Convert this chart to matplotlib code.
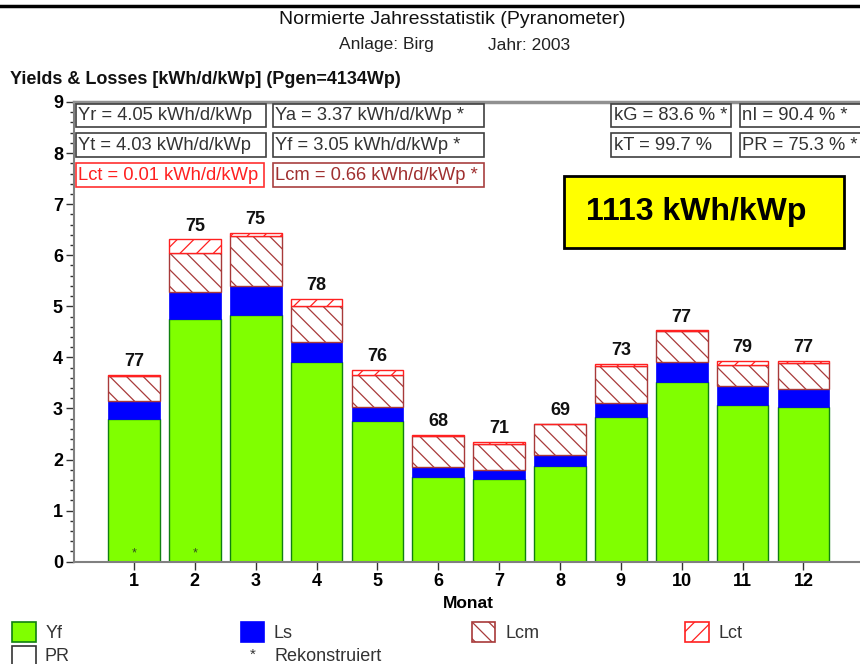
import matplotlib
matplotlib.use("Agg")
import matplotlib.pyplot as plt
from matplotlib.patches import Rectangle
from matplotlib.lines import Line2D

plt.rcParams['font.family'] = ['Liberation Sans', 'DejaVu Sans']
plt.rcParams['hatch.linewidth'] = 0.9

# ---------------- data ----------------
months = [1, 2, 3, 4, 5, 6, 7, 8, 9, 10, 11, 12]
yf = [2.79, 4.75, 4.83, 3.90, 2.75, 1.66, 1.62, 1.87, 2.84, 3.51, 3.07, 3.03]
ls = [0.36, 0.53, 0.57, 0.41, 0.27, 0.19, 0.18, 0.22, 0.27, 0.40, 0.37, 0.36]
lcm = [0.49, 0.76, 0.97, 0.70, 0.63, 0.62, 0.50, 0.60, 0.73, 0.60, 0.42, 0.50]
lct = [0.02, 0.27, 0.07, 0.13, 0.11, 0.01, 0.05, 0.01, 0.04, 0.02, 0.07, 0.04]
pr = [77, 75, 75, 78, 76, 68, 71, 69, 73, 77, 79, 77]
reconstructed = [1, 2]

stats_left = [("Yr = 4.05 kWh/d/kWp", "Ya = 3.37 kWh/d/kWp *"),
              ("Yt = 4.03 kWh/d/kWp", "Yf = 3.05 kWh/d/kWp *"),
              ("Lct = 0.01 kWh/d/kWp", "Lcm = 0.66 kWh/d/kWp *")]
stats_right = [("kG = 83.6 % *", "nI = 90.4 % *"),
               ("kT = 99.7 %", "PR = 75.3 % *")]
total_text = "1113 kWh/kWp"

title1 = "Normierte Jahresstatistik (Pyranometer)"
anlage = "Anlage: Birg"
jahr = "Jahr: 2003"
ylabel = "Yields & Losses [kWh/d/kWp] (Pgen=4134Wp)"
xlabel = "Monat"

# ---------------- figure ----------------
W, H = 860, 664
fig = plt.figure(figsize=(W / 100, H / 100), dpi=100)

def fx(px):
    return px / W

def fy(py):
    return 1 - py / H

ax_left, ax_right, ax_top, ax_bot = 74, 860, 102, 561.7
ax = fig.add_axes([fx(ax_left), fy(ax_bot), fx(ax_right - ax_left), (ax_bot - ax_top) / H])

GREEN = '#80ff00'
BLUE = '#0000ff'
LCM_C = '#a83a3a'
LCT_C = '#ff2020'

bw = 0.85
b1 = [a + b for a, b in zip(yf, ls)]
b2 = [a + b for a, b in zip(b1, lcm)]
tops = [a + b for a, b in zip(b2, lct)]

ax.bar(months, yf, width=bw, color=GREEN, edgecolor='#108010', linewidth=1.0, zorder=2)
ax.bar(months, ls, width=bw, bottom=yf, color=BLUE, edgecolor=BLUE, linewidth=0.5, zorder=2)
ax.bar(months, lcm, width=bw, bottom=b1, color='white', edgecolor=LCM_C, hatch='\\\\',
       linewidth=1.0, zorder=2)
ax.bar(months, lct, width=bw, bottom=b2, color='white', edgecolor=LCT_C, hatch='//',
       linewidth=1.0, zorder=2)

for m, t, p in zip(months, tops, pr):
    ax.annotate(str(p), (m, t), xytext=(0, 9.5), textcoords='offset points',
                ha='center', va='center', fontsize=13, fontweight='bold', color='#111111')

for m in reconstructed:
    ax.annotate('*', (m, 0), xytext=(0, 6), textcoords='offset points',
                ha='center', va='center', fontsize=9, color='#305020', zorder=3)

ax.set_xlim(0.014, 12.93)
ax.set_ylim(0, 9)
ax.set_xticks(months)
ax.set_xticklabels([str(m) for m in months], fontsize=13, fontweight='bold')
ax.set_yticks(range(0, 10))
ax.set_yticks([i * 0.2 for i in range(46) if i % 5 != 0], minor=True)
ax.set_yticklabels([str(i) for i in range(10)], fontsize=13, fontweight='bold')
ax.tick_params(axis='y', which='major', length=6, width=1, color='#333333', pad=2)
ax.tick_params(axis='y', which='minor', length=3, width=1, color='#333333')
ax.tick_params(axis='x', which='major', length=6, width=1, color='#333333', pad=2)

for s in ['left', 'bottom']:
    ax.spines[s].set_color('#808080')
    ax.spines[s].set_linewidth(1.5)
ax.spines['top'].set_color('#909090')
ax.spines['top'].set_linewidth(2.5)
ax.spines['right'].set_visible(False)

fig.text(fx(468), fy(603), xlabel, ha='center', va='center', fontsize=12.5, fontweight='bold')

# titles
fig.add_artist(Line2D([0, 1], [fy(6), fy(6)], transform=fig.transFigure, color='black', lw=2.5))
fig.text(fx(452), fy(20), title1, ha='center', va='center', fontsize=14, color='#111111')
fig.text(fx(339), fy(45), anlage, ha='left', va='center', fontsize=12.5, color='#222222')
fig.text(fx(488), fy(45), jahr, ha='left', va='center', fontsize=12.5, color='#222222')
fig.text(fx(10), fy(79), ylabel, ha='left', va='center', fontsize=13, fontweight='bold',
         color='#111111')

# stat boxes
def box(x0, y0, x1, y1, text, tcolor='#333333', ecolor='#404040', fs=13.2):
    fig.add_artist(Rectangle((fx(x0), fy(y1)), fx(x1 - x0), (y1 - y0) / H,
                             transform=fig.transFigure, facecolor='white',
                             edgecolor=ecolor, linewidth=1.2, zorder=5))
    fig.text(fx(x0 + 2.5), fy((y0 + y1) / 2 + 0.5), text, ha='left', va='center',
             fontsize=fs, color=tcolor, zorder=6)

rows_y = [(103.5, 126.7), (132.7, 156.7), (162.7, 186.7)]
for (y0, y1), (lt, rt) in zip(rows_y, stats_left):
    if lt.startswith('Lct'):
        box(76, y0, 264, y1, lt, tcolor='#ff2020', ecolor='#ff3030')
        box(272.7, y0, 484, y1, rt, tcolor='#a03030', ecolor='#a84040')
    else:
        box(76, y0, 266, y1, lt)
        box(272.7, y0, 484, y1, rt)

for (y0, y1), (lt, rt) in zip(rows_y[:2], stats_right):
    box(611, y0, 731, y1, lt)
    box(740, y0, 875, y1, rt)

# yellow total box
fig.add_artist(Rectangle((fx(564.3), fy(248.3)), fx(844.3 - 564.3), (248.3 - 176) / H,
                         transform=fig.transFigure, facecolor='#ffff00',
                         edgecolor='black', linewidth=2, zorder=5))
fig.text(fx(586), fy(212), total_text, ha='left', va='center', fontsize=23,
         fontweight='bold', color='black', zorder=6)

# legend
def leg_patch(x0, y0, x1, y1, fc, ec, hatch=None):
    fig.add_artist(Rectangle((fx(x0), fy(y1)), fx(x1 - x0), (y1 - y0) / H,
                             transform=fig.transFigure, facecolor=fc,
                             edgecolor=ec, linewidth=1.2, hatch=hatch))

leg_items = [("Yf", 12.3, GREEN, '#108010', None),
             ("Ls", 240.7, BLUE, BLUE, None),
             ("Lcm", 472, 'white', LCM_C, '\\\\'),
             ("Lct", 685, 'white', LCT_C, '//')]
for name, x0, fc, ec, h in leg_items:
    leg_patch(x0, 621.7, x0 + 23.5, 642.3, fc, ec, h)
    fig.text(fx(x0 + 33), fy(633), name, ha='left', va='center', fontsize=13, color='#333333')

leg_patch(12.3, 645.7, 35.8, 668, 'white', '#333333')
fig.text(fx(45), fy(656.5), "PR", ha='left', va='center', fontsize=13, color='#333333')
fig.text(fx(253), fy(655), "*", ha='center', va='center', fontsize=11, color='#333333')
fig.text(fx(274), fy(656.5), "Rekonstruiert", ha='left', va='center', fontsize=13,
         color='#333333')

fig.savefig("out.png", dpi=100)
